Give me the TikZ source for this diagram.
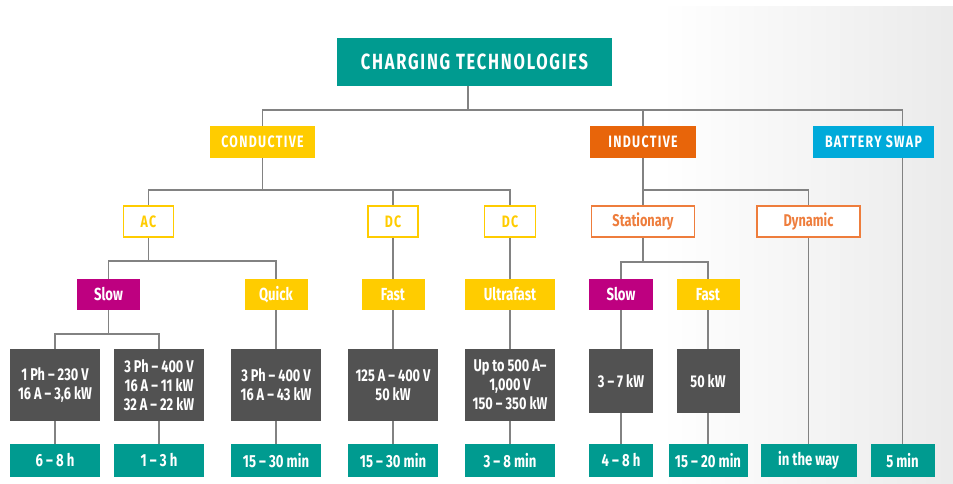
\documentclass[tikz,border=0pt]{standalone}
\usepackage{fontspec}
\setmainfont{Fira Sans}[FakeStretch=0.75]
\newfontfamily\capsfont{Fira Sans}[FakeStretch=0.75,LetterSpace=8]
\usepackage{xcolor}
\usetikzlibrary{backgrounds}

\definecolor{ctTeal}{RGB}{0,155,144}
\definecolor{ctYellow}{RGB}{255,204,0}
\definecolor{ctOrange}{RGB}{232,101,10}
\definecolor{ctLightOrange}{RGB}{238,125,60}
\definecolor{ctBlue}{RGB}{0,170,218}
\definecolor{ctMagenta}{RGB}{190,0,128}
\definecolor{ctDark}{RGB}{82,82,82}
\definecolor{ctLine}{RGB}{130,130,130}

\begin{document}
\begin{tikzpicture}[x=1pt, y=-1pt,
    box/.style={rectangle, inner sep=0pt, align=center, text=white, font=\bfseries\fontsize{17.5}{20}\selectfont},
    capsbox/.style={box, font=\capsfont\bfseries\fontsize{16.5}{20}\selectfont},
    outbox/.style={capsbox, fill=white, draw=#1, line width=1.6pt, text=#1},
    databox/.style={box, fill=ctDark, minimum width=90, minimum height=72, font=\bfseries\fontsize{17}{19}\selectfont},
    timebox/.style={box, fill=ctTeal, minimum width=90, minimum height=33, font=\bfseries\fontsize{17.5}{20}\selectfont},
    link/.style={draw=ctLine, line width=1.5pt}]
    \useasboundingbox (0,0) rectangle (953,484);

    % top
    \node [capsbox, fill=ctTeal, minimum width=275, minimum height=48, font=\capsfont\bfseries\fontsize{22}{26}\selectfont] (root) at (474.5,62) {CHARGING TECHNOLOGIES};

    % level 1
    \node [capsbox, fill=ctYellow, minimum width=105, minimum height=32] (cond) at (262.5,142) {CONDUCTIVE};
    \node [capsbox, fill=ctOrange, minimum width=106, minimum height=32] (ind) at (643,142) {INDUCTIVE};
    \node [capsbox, fill=ctBlue, minimum width=121, minimum height=32] (swap) at (873.5,142) {BATTERY SWAP};

    % level 2
    \node [outbox=ctYellow, minimum width=50, minimum height=31] (ac) at (148.5,221.5) {AC};
    \node [outbox=ctYellow, minimum width=50, minimum height=31] (dcA) at (393,221.5) {DC};
    \node [outbox=ctYellow, minimum width=51, minimum height=31] (dcB) at (510,221.5) {DC};
    \node [outbox=ctLightOrange, font=\bfseries\fontsize{17}{20}\selectfont, minimum width=103, minimum height=31] (stat) at (643,221.5) {Stationary};
    \node [outbox=ctLightOrange, font=\bfseries\fontsize{17}{20}\selectfont, minimum width=103, minimum height=31] (dyn) at (808.5,221.5) {Dynamic};

    % level 3
    \node [box, fill=ctMagenta, minimum width=63, minimum height=31] (slowA) at (108.5,294.5) {Slow};
    \node [box, fill=ctYellow, minimum width=63, minimum height=31] (quick) at (276,294.5) {Quick};
    \node [box, fill=ctYellow, minimum width=63, minimum height=31] (fast) at (393,294.5) {Fast};
    \node [box, fill=ctYellow, minimum width=90, minimum height=31] (ultra) at (510,294.5) {Ultrafast};
    \node [box, fill=ctMagenta, minimum width=64, minimum height=31] (slowB) at (621,294.5) {Slow};
    \node [box, fill=ctYellow, minimum width=63, minimum height=31] (fastB) at (708,294.5) {Fast};

    % ratings
    \node [databox] (g1) at (55,385) {1 Ph – 230 V\\16 A – 3,6 kW};
    \node [databox] (g2) at (159,385) {3 Ph – 400 V\\16 A – 11 kW\\32 A – 22 kW};
    \node [databox] (g3) at (276,385) {3 Ph – 400 V\\16 A – 43 kW};
    \node [databox] (g4) at (393,385) {125 A – 400 V\\50 kW};
    \node [databox] (g5) at (510,385) {Up to 500 A–\\1,000 V\\150 – 350 kW};
    \node [databox, minimum width=64, minimum height=64] (g6) at (621,381) {3 – 7 kW};
    \node [databox, minimum width=63, minimum height=64] (g7) at (708,381) {50 kW};

    % charging times
    \node [timebox] (t1) at (55,460.5) {6 – 8 h};
    \node [timebox] (t2) at (159,460.5) {1 – 3 h};
    \node [timebox] (t3) at (276,460.5) {15 – 30 min};
    \node [timebox] (t4) at (393,460.5) {15 – 30 min};
    \node [timebox] (t5) at (510,460.5) {3 – 8 min};
    \node [timebox, minimum width=64] (t6) at (621,460.5) {4 – 8 h};
    \node [timebox, minimum width=79] (t7) at (708,460.5) {15 – 20 min};
    \node [timebox, minimum width=96] (t8) at (808.5,460.5) {in the way};
    \node [timebox, minimum width=64] (t9) at (902.5,460.5) {5 min};

    \coordinate (busRoot) at (468,110);
    \coordinate (busCond) at (262.5,190);
    \coordinate (busInd) at (643,190);
    \coordinate (busAC) at (148.5,261);
    \coordinate (busStat) at (643,262);
    \coordinate (busSlow) at (108.5,334);

    \begin{pgfonlayer}{background}
        \shade [left color=white, right color=black!8] (660,7) rectangle (953,484);
        \path [link] (root.south -| busRoot) -- (busRoot);
        \path [link] (cond.north) |- (busRoot) -| (ind.north);
        \path [link] (busRoot) -| (t9.north);
        \path [link] (cond.south) -- (busCond);
        \path [link] (ac.north) |- (busCond) -| (dcB.north);
        \path [link] (dcA.north) -- (dcA.north |- busCond);
        \path [link] (ind.south) -- (stat.north);
        \path [link] (busInd) -| (dyn.north);
        \path [link] (ac.south) -- (busAC);
        \path [link] (slowA.north) |- (busAC) -| (quick.north);
        \path [link] (stat.south) -- (busStat);
        \path [link] (slowB.north) |- (busStat) -| (fastB.north);
        \path [link] (slowA.south) -- (busSlow);
        \path [link] (g1.north) |- (busSlow) -| (g2.north);
        \foreach \a/\b in {dcA/fast, dcB/ultra, quick/g3, fast/g4, ultra/g5, slowB/g6, fastB/g7, dyn/t8, g1/t1, g2/t2, g3/t3, g4/t4, g5/t5, g6/t6, g7/t7}
            \path [link] (\a) -- (\b);
    \end{pgfonlayer}
\end{tikzpicture}
\end{document}
